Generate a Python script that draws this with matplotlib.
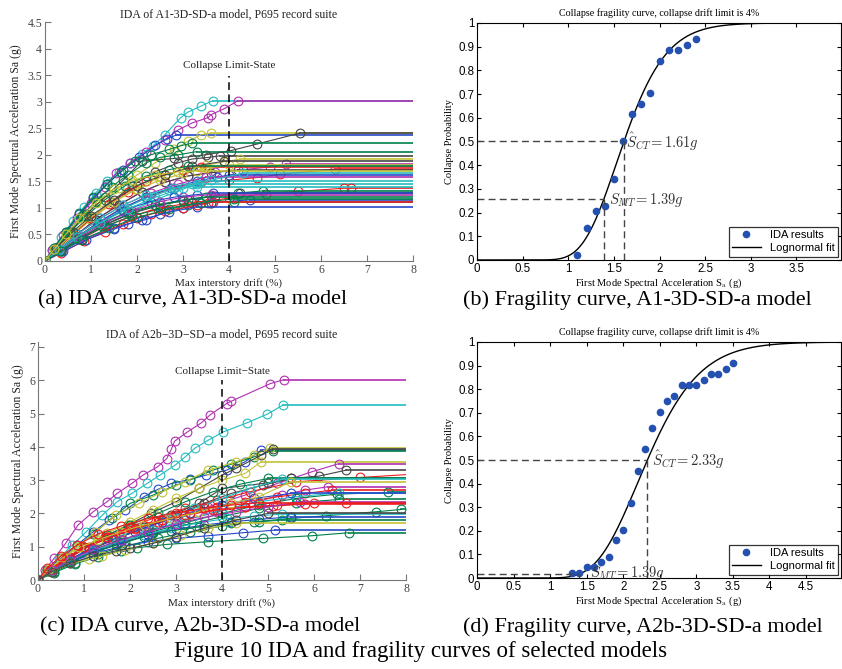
import math
import numpy as np
import matplotlib
matplotlib.use('Agg')
import matplotlib.pyplot as plt
from matplotlib.lines import Line2D

plt.rcParams['font.family'] = ['Liberation Serif', 'DejaVu Serif']
plt.rcParams['mathtext.fontset'] = 'cm'

# IDA curves, A1-3D-SD-a model (drift %, Sa g)
a_drift = [
    [0, 0.15, 0.35, 0.6, 0.85, 1.1, 1.35, 1.6, 1.85, 2.1, 2.35, 2.6, 2.95, 3.1, 3.4, 3.65],
    [0, 0.15, 0.4, 0.7, 1.0, 1.3, 1.55, 1.85, 2.2, 2.6, 2.9, 3.2, 3.55, 3.6, 3.9, 4.2],
    [0, 0.2, 0.45, 0.75, 1.05, 1.35, 1.7, 2.05, 2.4, 2.65, 2.85],
    [0, 0.2, 0.5, 0.85, 1.2, 1.6, 2.0, 2.4, 2.8, 3.1, 3.4, 3.6],
    [0, 0.25, 0.55, 0.9, 1.3, 1.7, 2.1, 2.8, 3.5, 4.05, 4.6, 5.55],
    [0, 0.2, 0.45, 0.75, 1.05, 1.35, 1.65, 1.95, 2.3, 2.7, 2.95, 3.2],
    [0, 0.2, 0.5, 0.8, 1.1, 1.45, 1.8, 2.2, 2.5, 2.9, 3.3],
    [0, 0.25, 0.6, 1.0, 1.45, 1.9, 2.4, 2.9, 3.2, 3.55, 3.8],
    [0, 0.25, 0.6, 1.0, 1.45, 1.95, 2.5, 3.0, 3.5, 3.9, 4.25],
    [0, 0.3, 0.7, 1.1, 1.6, 2.1, 2.6, 3.1, 3.7, 4.3, 4.9, 5.25],
    [0, 0.3, 0.7, 1.15, 1.65, 2.2, 2.8, 3.4, 4.0, 4.6, 5.1, 6.3],
    [0, 0.3, 0.7, 1.1, 1.6, 2.1, 2.6, 3.1, 3.6, 4.2],
    [0, 0.25, 0.6, 1.0, 1.4, 1.8, 2.2, 2.6, 3.0, 3.4],
    [0, 0.3, 0.7, 1.15, 1.65, 2.2, 2.75, 3.3, 3.75, 4.0],
    [0, 0.3, 0.7, 1.2, 1.7, 2.2, 2.7, 3.2, 3.4],
    [0, 0.35, 0.8, 1.3, 1.8, 2.4, 2.9, 3.3],
    [0, 0.35, 0.8, 1.3, 1.9, 2.5, 3.2, 4.0, 4.8, 5.5, 6.5, 6.65],
    [0, 0.3, 0.75, 1.25, 1.8, 2.4, 3.0, 3.6, 4.2, 4.75],
    [0, 0.35, 0.8, 1.3, 1.9, 2.5, 3.1, 3.7, 4.25],
    [0, 0.3, 0.7, 1.2, 1.7, 2.3, 2.8, 3.3, 3.65],
    [0, 0.35, 0.8, 1.5, 1.8, 2.2, 2.5, 3.0, 3.6, 4.45],
    [0, 0.3, 0.75, 1.3, 1.9, 2.5, 3.1, 3.6, 4.1],
    [0, 0.35, 0.85, 1.3, 1.7, 2.0, 2.3, 2.6, 3.0, 3.3, 3.55, 3.65],
    [0, 0.4, 0.9, 1.5, 2.1, 2.7, 3.3],
    [0, 0.3, 0.7, 1.2, 1.8, 2.4, 3.0, 3.5],
    [0, 0.3, 0.7, 1.2, 1.7, 2.3, 2.9, 3.5],
    [0, 0.25, 0.6, 1.0, 1.5, 2.0, 2.5, 3.0, 3.5, 4.0],
    [0, 0.3, 0.7, 1.2, 1.7, 2.2, 2.8, 3.3],
    [0, 0.25, 0.55, 0.9, 1.3, 1.75, 2.2, 2.7, 3.1],
    [0, 0.3, 0.75, 1.3, 1.9, 2.5, 3.0, 3.6],
    [0, 0.25, 0.6, 1.0, 1.5, 2.0, 2.6, 3.2, 3.9],
    [0, 0.3, 0.7, 1.2, 1.8, 2.4, 3.0, 3.6, 4.3],
    [0, 0.35, 0.8, 1.4, 2.0, 2.7, 3.4, 4.1],
    [0, 0.2, 0.45, 0.75, 1.1, 1.5, 1.9, 2.4, 2.9, 3.3],
]
a_sa = [
    [0, 0.2, 0.45, 0.75, 1.02, 1.28, 1.5, 1.68, 1.85, 2.02, 2.17, 2.37, 2.7, 2.8, 2.92, 3.02],
    [0, 0.2, 0.48, 0.8, 1.1, 1.4, 1.65, 1.85, 2.05, 2.28, 2.47, 2.6, 2.7, 2.75, 2.87, 3.02],
    [0, 0.25, 0.55, 0.88, 1.18, 1.45, 1.72, 1.95, 2.18, 2.3, 2.37],
    [0, 0.22, 0.52, 0.85, 1.12, 1.38, 1.62, 1.85, 2.1, 2.25, 2.38, 2.41],
    [0, 0.25, 0.55, 0.88, 1.2, 1.52, 1.88, 1.93, 2.0, 2.08, 2.2, 2.41],
    [0, 0.25, 0.55, 0.9, 1.2, 1.45, 1.68, 1.88, 2.0, 2.1, 2.17, 2.22],
    [0, 0.22, 0.55, 0.85, 1.12, 1.4, 1.62, 1.85, 1.95, 2.0, 2.06],
    [0, 0.22, 0.5, 0.8, 1.12, 1.42, 1.68, 1.85, 1.92, 1.95, 1.98],
    [0, 0.2, 0.48, 0.78, 1.08, 1.35, 1.58, 1.72, 1.8, 1.87, 1.92],
    [0, 0.22, 0.5, 0.78, 1.05, 1.3, 1.48, 1.6, 1.68, 1.72, 1.77, 1.83],
    [0, 0.2, 0.45, 0.72, 0.98, 1.2, 1.38, 1.48, 1.52, 1.57, 1.63, 1.73],
    [0, 0.22, 0.5, 0.78, 1.05, 1.3, 1.48, 1.6, 1.66, 1.71],
    [0, 0.22, 0.5, 0.8, 1.08, 1.3, 1.5, 1.62, 1.72, 1.77],
    [0, 0.2, 0.45, 0.72, 0.98, 1.2, 1.38, 1.5, 1.58, 1.62],
    [0, 0.2, 0.45, 0.72, 0.98, 1.18, 1.33, 1.45, 1.5],
    [0, 0.2, 0.45, 0.7, 0.92, 1.15, 1.32, 1.45],
    [0, 0.18, 0.42, 0.65, 0.85, 1.0, 1.1, 1.18, 1.27, 1.31, 1.37, 1.37],
    [0, 0.18, 0.42, 0.66, 0.88, 1.05, 1.15, 1.22, 1.28, 1.32],
    [0, 0.2, 0.45, 0.68, 0.9, 1.05, 1.15, 1.22, 1.28],
    [0, 0.2, 0.45, 0.72, 0.95, 1.12, 1.2, 1.25, 1.28],
    [0, 0.18, 0.4, 0.62, 0.7, 0.78, 0.88, 1.0, 1.1, 1.15],
    [0, 0.18, 0.42, 0.65, 0.85, 0.98, 1.05, 1.1, 1.12],
    [0, 0.15, 0.38, 0.55, 0.7, 0.8, 0.88, 0.95, 1.0, 1.05, 1.1, 1.12],
    [0, 0.18, 0.4, 0.6, 0.78, 0.92, 1.02],
    [0, 0.2, 0.45, 0.7, 0.92, 1.05, 1.13, 1.2],
    [0, 0.22, 0.5, 0.8, 1.05, 1.28, 1.45, 1.58],
    [0, 0.22, 0.52, 0.82, 1.12, 1.35, 1.52, 1.65, 1.75, 1.8],
    [0, 0.22, 0.5, 0.8, 1.05, 1.25, 1.38, 1.4],
    [0, 0.25, 0.55, 0.85, 1.15, 1.42, 1.6, 1.72, 1.78],
    [0, 0.2, 0.45, 0.72, 0.95, 1.12, 1.2, 1.25],
    [0, 0.25, 0.55, 0.85, 1.15, 1.42, 1.62, 1.78, 1.88],
    [0, 0.2, 0.45, 0.72, 0.98, 1.2, 1.38, 1.52, 1.65],
    [0, 0.18, 0.4, 0.62, 0.82, 0.98, 1.1, 1.17],
    [0, 0.22, 0.5, 0.8, 1.1, 1.35, 1.52, 1.62, 1.68, 1.7],
]
a_colors = 'cmbykggkymrkrbccrgkbbgrbgmycgmkcgy'

# IDA curves, A2b-3D-SD-a model
c_drift = [
    [0, 0.15, 0.35, 0.6, 0.87, 1.2, 1.5, 1.72, 2.04, 2.28, 2.6, 2.8, 2.9, 2.97, 3.25, 3.55, 3.75, 4.1, 4.2, 5.05, 5.35],
    [0, 0.2, 0.45, 0.75, 1.05, 1.4, 1.72, 2.04, 2.37, 2.65, 2.98, 3.2, 3.41, 3.7, 4.03, 4.54, 4.98, 5.32],
    [0, 0.2, 0.5, 0.85, 1.2, 1.55, 1.9, 2.3, 2.6, 2.9, 3.3, 3.65, 4.1, 4.5, 4.85],
    [0, 0.2, 0.5, 0.85, 1.2, 1.6, 2.0, 2.5, 3.0, 3.3, 3.8, 4.2, 4.7, 5.1],
    [0, 0.2, 0.5, 0.85, 1.25, 1.7, 2.2, 2.7, 3.2, 3.7, 4.3, 4.7, 5.05],
    [0, 0.25, 0.6, 1.0, 1.45, 1.95, 2.45, 3.0, 3.5, 4.0, 4.3, 4.85, 5.1],
    [0, 0.25, 0.6, 1.0, 1.5, 2.0, 2.5, 3.0, 3.5, 4.0, 4.5, 4.85],
    [0, 0.3, 0.7, 1.2, 1.8, 2.4, 3.0, 3.7, 4.5, 5.2, 5.95, 6.55],
    [0, 0.3, 0.7, 1.2, 1.8, 2.4, 3.0, 3.6, 4.2, 4.9, 5.5, 6.1, 6.7],
    [0, 0.25, 0.6, 1.0, 1.5, 2.0, 2.6, 3.2, 3.9, 4.6, 5.6, 7.0, 8.4],
    [0, 0.3, 0.7, 1.2, 1.7, 2.3, 2.9, 3.5, 4.0, 5.0, 5.5],
    [0, 0.25, 0.6, 1.0, 1.5, 2.0, 2.6, 3.2, 3.8, 4.4, 5.0],
    [0, 0.3, 0.7, 1.1, 1.6, 2.2, 2.8, 3.4, 4.0, 4.6, 5.3],
    [0, 0.3, 0.7, 1.2, 1.8, 2.5, 3.2, 3.9, 4.6, 5.3, 5.8, 6.3],
    [0, 0.25, 0.6, 1.0, 1.5, 2.1, 2.7, 3.3, 3.9, 4.5, 5.2, 5.8, 6.4],
    [0, 0.3, 0.7, 1.2, 1.8, 2.5, 3.2, 4.0, 4.8, 5.6, 6.5, 7.6],
    [0, 0.3, 0.7, 1.2, 1.8, 2.5, 3.2, 4.0, 4.8, 5.6, 6.55],
    [0, 0.3, 0.7, 1.1, 1.6, 2.1, 2.7, 3.3, 4.0, 4.7, 5.5],
    [0, 0.3, 0.75, 1.3, 1.9, 2.5, 3.2, 4.0, 4.8, 5.6, 6.55],
    [0, 0.25, 0.6, 1.0, 1.5, 2.0, 2.6, 3.2, 3.8, 4.5, 5.2, 6.0, 6.7],
    [0, 0.3, 0.7, 1.1, 1.6, 2.1, 2.7, 3.3, 3.9, 4.5, 5.1, 5.8],
    [0, 0.35, 0.8, 1.3, 1.9, 2.6, 3.3, 4.0, 4.7, 5.5, 6.25, 7.35, 7.9],
    [0, 0.3, 0.7, 1.2, 1.7, 2.3, 2.9, 3.5, 4.1, 4.7, 5.3],
    [0, 0.3, 0.7, 1.2, 1.8, 2.4, 3.0, 3.6, 4.2, 4.8, 5.5],
    [0, 0.3, 0.7, 1.2, 1.7, 2.3, 2.9, 3.5, 4.2, 4.8, 5.3],
    [0, 0.3, 0.7, 1.2, 1.8, 2.4, 3.0, 3.7, 4.45, 5.15],
    [0, 0.35, 0.8, 1.3, 1.8, 2.15, 2.8, 3.7, 4.9, 5.95, 6.75],
    [0, 0.25, 0.55, 0.9, 1.3, 1.8, 2.3, 2.9, 3.5, 4.2, 4.8, 5.5],
    [0, 0.3, 0.7, 1.2, 1.8, 2.4, 3.0, 3.6, 4.3, 5.0, 5.7],
    [0, 0.3, 0.7, 1.1, 1.4, 1.9, 2.5, 3.1, 3.7, 4.3],
    [0, 0.2, 0.5, 0.85, 1.3, 1.8, 2.4, 3.0, 3.6, 4.2, 4.8],
    [0, 0.3, 0.7, 1.2, 1.7, 2.0, 2.5, 3.0, 3.6, 4.3, 5.0],
]
c_sa = [
    [0, 0.3, 0.65, 1.1, 1.65, 2.05, 2.35, 2.6, 2.9, 3.15, 3.4, 3.65, 3.93, 4.17, 4.45, 4.72, 4.97, 5.3, 5.37, 5.9, 6.02],
    [0, 0.3, 0.65, 1.05, 1.45, 1.95, 2.35, 2.6, 2.9, 3.15, 3.45, 3.7, 3.96, 4.2, 4.45, 4.72, 4.98, 5.25],
    [0, 0.3, 0.65, 1.05, 1.45, 1.8, 2.1, 2.5, 2.72, 2.9, 3.02, 3.15, 3.3, 3.55, 3.9],
    [0, 0.28, 0.62, 1.0, 1.38, 1.85, 2.3, 2.55, 2.85, 3.0, 3.3, 3.48, 3.7, 3.88],
    [0, 0.28, 0.62, 1.0, 1.45, 1.95, 2.3, 2.65, 2.95, 3.3, 3.55, 3.75, 3.97],
    [0, 0.28, 0.6, 0.95, 1.3, 1.65, 2.0, 2.35, 2.75, 3.15, 3.35, 3.75, 3.95],
    [0, 0.3, 0.65, 1.0, 1.4, 1.75, 2.1, 2.45, 2.75, 3.0, 3.2, 3.55],
    [0, 0.3, 0.62, 0.95, 1.3, 1.6, 1.9, 2.2, 2.55, 2.9, 3.25, 3.5],
    [0, 0.28, 0.6, 0.95, 1.3, 1.6, 1.95, 2.3, 2.6, 2.85, 3.05, 3.12, 3.3],
    [0, 0.3, 0.62, 0.98, 1.3, 1.6, 1.9, 2.15, 2.4, 2.65, 2.95, 3.08, 3.2],
    [0, 0.28, 0.6, 0.95, 1.25, 1.6, 1.95, 2.3, 2.75, 2.92, 3.05],
    [0, 0.28, 0.62, 0.98, 1.35, 1.65, 2.0, 2.35, 2.65, 2.88, 3.05],
    [0, 0.28, 0.6, 0.92, 1.22, 1.55, 1.85, 2.15, 2.45, 2.75, 3.02],
    [0, 0.28, 0.58, 0.9, 1.2, 1.5, 1.8, 2.05, 2.3, 2.55, 2.7, 2.8],
    [0, 0.3, 0.62, 0.95, 1.25, 1.52, 1.8, 2.0, 2.2, 2.35, 2.5, 2.6, 2.7],
    [0, 0.28, 0.58, 0.88, 1.15, 1.45, 1.72, 2.0, 2.25, 2.45, 2.58, 2.63],
    [0, 0.28, 0.58, 0.9, 1.2, 1.5, 1.8, 2.1, 2.35, 2.5, 2.62],
    [0, 0.3, 0.62, 0.92, 1.2, 1.45, 1.75, 2.0, 2.25, 2.45, 2.6],
    [0, 0.28, 0.58, 0.88, 1.15, 1.4, 1.65, 1.9, 2.15, 2.32, 2.42],
    [0, 0.3, 0.65, 1.0, 1.3, 1.55, 1.75, 1.95, 2.1, 2.2, 2.25, 2.3, 2.32],
    [0, 0.32, 0.68, 1.0, 1.3, 1.55, 1.8, 1.98, 2.1, 2.18, 2.22, 2.28],
    [0, 0.25, 0.52, 0.78, 1.02, 1.25, 1.45, 1.62, 1.75, 1.85, 1.93, 2.05, 2.12],
    [0, 0.28, 0.58, 0.88, 1.12, 1.35, 1.55, 1.72, 1.85, 1.92, 1.98],
    [0, 0.25, 0.55, 0.85, 1.1, 1.35, 1.52, 1.65, 1.75, 1.82, 1.9],
    [0, 0.25, 0.55, 0.82, 1.05, 1.3, 1.48, 1.6, 1.7, 1.75, 1.8],
    [0, 0.25, 0.52, 0.8, 1.0, 1.15, 1.25, 1.33, 1.42, 1.5],
    [0, 0.22, 0.48, 0.7, 0.88, 0.97, 1.07, 1.15, 1.25, 1.33, 1.42],
    [0, 0.32, 0.68, 0.98, 1.2, 1.45, 1.65, 1.85, 2.05, 2.3, 2.5, 2.95],
    [0, 0.3, 0.6, 0.92, 1.2, 1.45, 1.68, 1.88, 2.05, 2.2, 2.35],
    [0, 0.25, 0.5, 0.62, 0.72, 0.9, 1.12, 1.35, 1.55, 1.72],
    [0, 0.35, 0.72, 1.05, 1.38, 1.62, 1.85, 2.02, 2.15, 2.25, 2.32],
    [0, 0.25, 0.5, 0.72, 0.88, 0.95, 1.1, 1.3, 1.55, 1.8, 2.0],
]
c_colors = 'mcbgykymkrkgcmrgcbgrrgcbgbgymyrk'

# fragility points and lognormal fits
b_sa = [1.1, 1.2, 1.3, 1.4, 1.5, 1.6, 1.7, 1.8, 1.9, 2.0, 2.1, 2.2, 2.3, 2.4]
b_prob = [0.023, 0.136, 0.205, 0.227, 0.341, 0.5, 0.614, 0.659, 0.705, 0.841, 0.886, 0.886, 0.909, 0.932]
b_median, b_beta, b_smt = 1.61, 0.225, 1.39

d_sa = [1.3, 1.4, 1.5, 1.6, 1.7, 1.8, 1.9, 2.0, 2.1, 2.2, 2.3, 2.4, 2.5, 2.6, 2.7,
        2.8, 2.9, 3.0, 3.1, 3.2, 3.3, 3.4, 3.5]
d_prob = [0.023, 0.023, 0.045, 0.045, 0.068, 0.091, 0.159, 0.205, 0.318, 0.455, 0.545,
          0.636, 0.705, 0.75, 0.773, 0.818, 0.818, 0.818, 0.841, 0.864, 0.864, 0.886, 0.909]
d_median, d_beta, d_smt = 2.33, 0.24, 1.39

mcol = {'b': '#2547c8', 'g': '#00804a', 'r': '#ee1c1c', 'c': '#22bcc0',
        'm': '#b02fb0', 'y': '#c2c235', 'k': '#454545'}


def lognorm_cdf(x, med, beta):
    x = np.asarray(x, dtype=float)
    z = np.log(np.maximum(x, 1e-9) / med) / (beta * math.sqrt(2))
    return 0.5 * (1 + np.vectorize(math.erf)(z))


def ida_panel(ax, drifts, sas, cols, ymax, title, text_y, line_top, minus=False):
    for d, s, c in zip(drifts, sas, cols):
        ax.plot([d[-1], 8.5], [s[-1], s[-1]], color=mcol[c], lw=1.4, alpha=0.85)
        ax.plot(d, s, '-o', color=mcol[c], mfc='none', ms=6.3, lw=0.8, mew=0.8)
    ax.plot([4, 4], [0, line_top], color='k', ls=(0, (5, 3)), lw=1.1)
    lbl = 'Collapse Limit\u2212State' if minus else 'Collapse Limit-State'
    ax.text(4, text_y, lbl, ha='center', va='center', fontsize=8, color='#222')
    ax.set_xlim(0, 8)
    ax.set_ylim(0, ymax)
    ax.set_xticks(range(0, 9))
    ax.set_xlabel('Max interstory drift (%)', fontsize=8, color='#222', labelpad=2)
    ax.set_ylabel('First Mode Spectural Acceleration Sa (g)', fontsize=8.5, color='#222', labelpad=4)
    ax.set_title(title, fontsize=8.5, color='#222', pad=3)
    for sp in ['top', 'right']:
        ax.spines[sp].set_visible(False)
    for sp in ['left', 'bottom']:
        ax.spines[sp].set_color('#777')
    ax.tick_params(direction='in', length=4, color='#777', labelsize=8.5, labelcolor='#444', pad=2)


def frag_panel(ax, sa, prob, med, beta, smt, xmax, xticks, ct_xy, mt_xy):
    xs = np.linspace(0.01, xmax, 400)
    ax.plot(xs, lognorm_cdf(xs, med, beta), color='k', lw=1.0)
    ax.plot(sa, prob, 'o', color='#2450b0', ms=4.5, ls='none')
    pmt = float(lognorm_cdf([smt], med, beta)[0])
    dash = dict(color='#444', ls=(0, (5, 3)), lw=1.0)
    ax.plot([0, med], [0.5, 0.5], **dash)
    ax.plot([med, med], [0, 0.5], **dash)
    ax.plot([0, smt], [pmt, pmt], **dash)
    ax.plot([smt, smt], [0, pmt], **dash)
    ax.text(ct_xy[0], ct_xy[1], r'$\hat{S}_{CT}\!= %.2fg$' % med, fontsize=10.5,
            color='#333', va='center', ha='left')
    ax.text(mt_xy[0], mt_xy[1], r'$S_{MT}\!= %.2fg$' % smt, fontsize=10.5,
            color='#333', va='center', ha='left')
    ax.set_xlim(0, xmax)
    ax.set_ylim(0, 1)
    ax.set_xticks(xticks)
    ax.set_yticks(np.arange(0, 1.01, 0.1))
    ax.set_xticklabels(['%g' % t for t in xticks], family='Liberation Sans')
    ax.set_yticklabels(['%g' % round(t, 1) for t in np.arange(0, 1.01, 0.1)], family='Liberation Sans')
    ax.tick_params(direction='in', length=3, labelsize=8.3, top=True, right=True, pad=2)
    ax.set_xlabel(r'First Mode Spectral Acceleration S$_{\mathrm{a}}$ (g)', fontsize=7.5, labelpad=1)
    ax.set_ylabel('Collapse Probability', fontsize=7.5, labelpad=3)
    ax.set_title('Collapse fragility curve, collapse drift limit is 4%', fontsize=7.2, pad=5)
    h = [Line2D([], [], marker='o', color='#2450b0', ls='none', ms=4.5),
         Line2D([], [], color='k', lw=1.0)]
    leg = ax.legend(h, ['IDA results', 'Lognormal fit'], loc='lower right', fancybox=False,
                    prop={'family': 'Liberation Sans', 'size': 8}, borderaxespad=0.3,
                    handlelength=2.6, borderpad=0.3, labelspacing=0.3)
    leg.get_frame().set_edgecolor('k')
    leg.get_frame().set_linewidth(0.9)


fig = plt.figure(figsize=(8.42, 6.69), dpi=100)
ax_a = fig.add_axes([0.0534, 0.6099, 0.4371, 0.3572])
ax_b = fig.add_axes([0.5665, 0.6114, 0.4325, 0.3543])
ax_c = fig.add_axes([0.0451, 0.1330, 0.4371, 0.3558])
ax_d = fig.add_axes([0.5665, 0.1360, 0.4325, 0.3528])

ida_panel(ax_a, a_drift, a_sa, a_colors, 4.5, 'IDA of A1-3D-SD-a model, P695 record suite', 3.69, 3.48)
ax_a.set_yticks(np.arange(0, 4.51, 0.5))
ax_a.set_yticklabels(['%g' % t for t in np.arange(0, 4.51, 0.5)])
ida_panel(ax_c, c_drift, c_sa, c_colors, 7.15, 'IDA of A2b\u22123D\u2212SD\u2212a model, P695 record suite',
          6.26, 6.0, minus=True)
ax_c.set_yticks(range(0, 8))

frag_panel(ax_b, b_sa, b_prob, b_median, b_beta, b_smt, 3.99,
           [0, 0.5, 1, 1.5, 2, 2.5, 3, 3.5], (1.63, 0.5), (1.45, 0.255))
frag_panel(ax_d, d_sa, d_prob, d_median, d_beta, d_smt, 4.98,
           [0, 0.5, 1, 1.5, 2, 2.5, 3, 3.5, 4, 4.5], (2.39, 0.5), (1.54, 0.02))

fig.text(0.229, 1 - 300 / 669, '(a) IDA curve, A1-3D-SD-a model', ha='center', va='center', fontsize=16)
fig.text(0.757, 1 - 300 / 669, '(b) Fragility curve, A1-3D-SD-a model', ha='center', va='center', fontsize=16)
fig.text(0.2375, 1 - 627 / 669, '(c) IDA curve, A2b-3D-SD-a model', ha='center', va='center', fontsize=16)
fig.text(0.763, 1 - 627 / 669, '(d) Fragility curve, A2b-3D-SD-a model', ha='center', va='center', fontsize=16)
fig.text(0.5, 1 - 651 / 669, 'Figure 10 IDA and fragility curves of selected models', ha='center',
         va='center', fontsize=16.5)

fig.savefig('out.png', dpi=100)
